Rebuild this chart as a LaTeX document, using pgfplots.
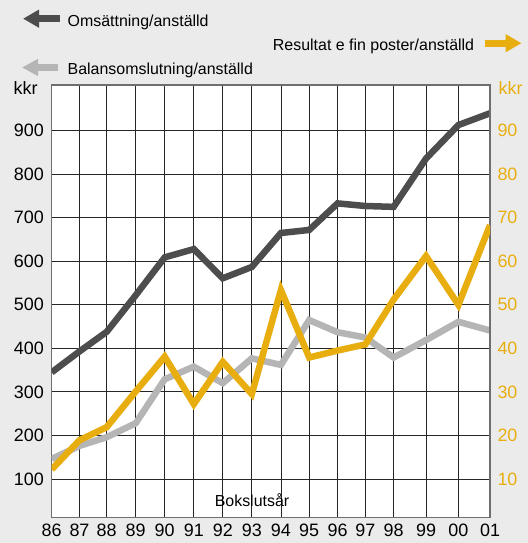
\documentclass[border=0pt]{standalone}
\usepackage{fontspec}
\setmainfont{Liberation Sans}
\usepackage{pgfplots}
\usepackage{pgfplotstable}
\pgfplotsset{compat=1.18}
\usetikzlibrary{arrows.meta}
\definecolor{bg}{HTML}{EBEBEB}
\definecolor{darkline}{HTML}{4D4D4D}
\definecolor{lightline}{HTML}{B5B5B5}
\definecolor{resorange}{HTML}{E8AE10}
\definecolor{frame}{HTML}{6E6E6E}

% x = horizontal position of each year (bp from left edge of plot)
\pgfplotstableread{
x      oms   bal   res
0      345   146   12.2
27.8   393   176   18.9
55     438   196   21.9
84     522   228   30.1
113    609   329   38.1
142.1  628   358   27.2
171.1  561   320   36.9
200.1  587   377   29.5
229.2  665   362   53.4
257.5  672   465   37.9
285.9  733   437   39.5
313.6  727   425   40.9
341.9  725   379   51.2
374.3  836   419   61.2
406.7  913   461   50.0
438.3  940   441   68.3
}\datatable

\begin{document}
\begin{tikzpicture}[x=1bp,y=1bp]
\fill[bg] (0,0) rectangle (528,543);
\useasboundingbox (0,0) rectangle (528,543);

\begin{axis}[
  at={(51.7bp,25.3bp)}, anchor=south west,
  scale only axis, width=438.3bp, height=432.7bp,
  xmin=0, xmax=438.3, ymin=11, ymax=1005,
  xtick={0,27.8,55,84,113,142.1,171.1,200.1,229.2,257.5,285.9,313.6,341.9,374.3,406.7,438.3},
  xticklabels={86,87,88,89,90,91,92,93,94,95,96,97,98,99,00,01},
  ytick={100,200,300,400,500,600,700,800,900},
  grid=major,
  major grid style={draw=black!85, line width=0.8bp},
  major tick length=0pt,
  axis background/.style={fill=white},
  axis line style={draw=frame, line width=1.5bp},
  tick label style={font=\fontsize{18}{20}\selectfont},
  /pgf/number format/assume math mode=true,
  xticklabel style={anchor=base, inner sep=0pt, yshift=-19.3bp},
  yticklabel style={anchor=east, inner sep=0pt, xshift=-7.7bp},
]
\addplot[lightline, line width=6.5bp, line join=miter] table[x=x, y=bal] {\datatable};
\addplot[darkline, line width=6.5bp, line join=miter] table[x=x, y=oms] {\datatable};
\end{axis}

\begin{axis}[
  at={(51.7bp,25.3bp)}, anchor=south west,
  scale only axis, width=438.3bp, height=432.7bp,
  xmin=0, xmax=438.3, ymin=1.1, ymax=100.5,
  hide x axis,
  axis y line*=right,
  ytick={10,20,30,40,50,60,70,80,90},
  major tick length=0pt,
  axis line style={draw=frame, line width=1.5bp},
  tick label style={font=\fontsize{18}{20}\selectfont},
  /pgf/number format/assume math mode=true,
  yticklabel style={anchor=west, inner sep=0pt, xshift=7.3bp, text=resorange},
]
\addplot[resorange, line width=6.5bp, line join=miter] table[x=x, y=res] {\datatable};
\end{axis}

% legend-like annotations
\draw[darkline, line width=7bp, -{Triangle[length=16bp, width=17bp]}] (60,524.3) -- (23,524.3);
\draw[resorange, line width=7bp, -{Triangle[length=16bp, width=17bp]}] (484.5,499.8) -- (521.6,499.8);
\draw[lightline, line width=7bp, -{Triangle[length=16bp, width=16bp]}] (58,475.5) -- (22,475.5);

\node[anchor=base west, inner sep=0pt, font=\fontsize{16}{18}\selectfont] at (67.5,516) {Omsättning/anställd};
\node[anchor=base east, inner sep=0pt, font=\fontsize{16}{18}\selectfont] at (474.3,492.4) {Resultat e fin poster/anställd};
\node[anchor=base west, inner sep=0pt, font=\fontsize{16}{18}\selectfont] at (67.5,468) {Balansomslutning/anställd};
\node[anchor=base west, inner sep=0pt, font=\fontsize{18}{20}\selectfont] at (13.5,448) {kkr};
\node[anchor=base west, inner sep=0pt, font=\fontsize{18}{20}\selectfont, color=resorange, text=resorange] at (498.5,448) {\color{resorange}kkr};
\node[anchor=base, inner sep=0pt, font=\fontsize{16}{18}\selectfont] at (252,36.7) {Bokslutsår};
\end{tikzpicture}
\end{document}
